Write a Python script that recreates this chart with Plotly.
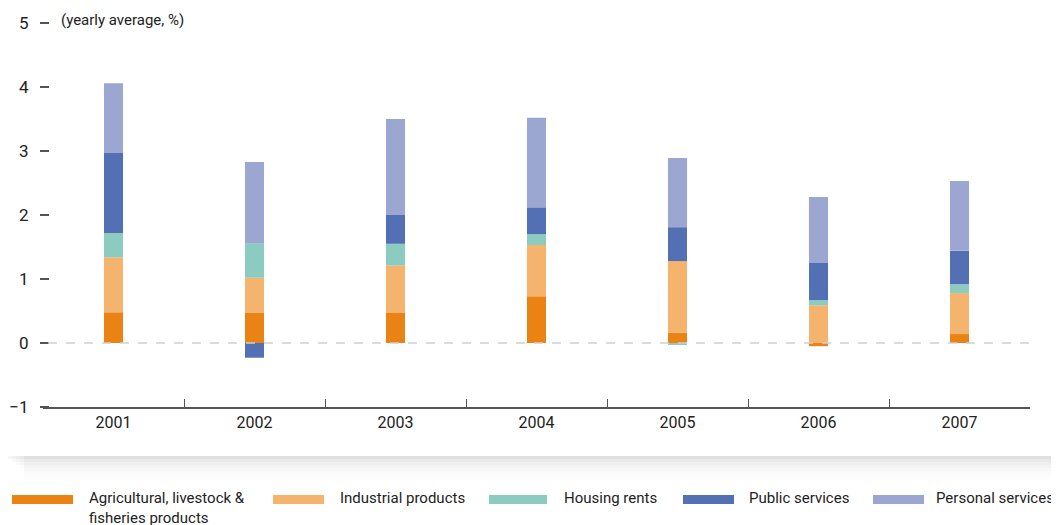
import plotly.graph_objects as go

# yearly average contributions, %
years = ["2001", "2002", "2003", "2004", "2005", "2006", "2007"]
agri = [0.48, 0.47, 0.47, 0.73, 0.16, -0.05, 0.14]
industrial = [0.86, 0.55, 0.74, 0.80, 1.12, 0.59, 0.64]
housing = [0.38, 0.54, 0.34, 0.17, -0.03, 0.08, 0.14]
public = [1.25, -0.23, 0.45, 0.42, 0.53, 0.58, 0.52]
personal = [1.09, 1.27, 1.50, 1.40, 1.08, 1.03, 1.09]

names = ["Agricultural, livestock &<br>fisheries products", "Industrial products",
         "Housing rents", "Public services", "Personal services"]
colors = ["#EB8214", "#F5B46E", "#8BCBC0", "#5470B4", "#9BA7D0"]
series = [agri, industrial, housing, public, personal]

FONT = "Liberation Sans Narrow, Arial Narrow, Roboto, sans-serif"
OFF = 8  # page body margin
W_PX, H_PX = 1059 - OFF, 525 - OFF
L, R, T, B = 43 - OFF, 1030 - OFF, 23 - OFF, 407 - OFF


# screen pixel -> paper fraction
def px(x):
    return (x - OFF - L) / (R - L)


def py(y):
    return (B - (y - OFF)) / (B - T)


fig = go.Figure()
for name, col, vals in zip(names, colors, series):
    fig.add_trace(go.Bar(x=years, y=vals, name=name, marker_color=col,
                         marker_line_width=0, width=0.135, showlegend=False))

shapes = []
# card shadow
for i, op in enumerate([0.03, 0.025, 0.02, 0.016, 0.012, 0.009, 0.006, 0.004]):
    shapes.append(dict(type="rect", xref="paper", yref="paper",
                       x0=px(8 + 4 * i if i < 4 else 24), x1=px(1054), y0=py(456), y1=py(456 + 3 * (i + 1)),
                       fillcolor="black", opacity=op, line_width=0, layer="below"))
for i, op in enumerate([0.03, 0.02, 0.015]):
    shapes.append(dict(type="rect", xref="paper", yref="paper",
                       x0=px(1054), x1=px(1054 + 2 * (i + 1)), y0=py(30), y1=py(456),
                       fillcolor="black", opacity=op, line_width=0, layer="below"))
# zero line
shapes.append(dict(type="line", xref="paper", yref="y", x0=px(48), x1=1, y0=0, y1=0,
                   line=dict(color="#cfcfcf", width=1.5, dash="dash"), layer="above"))

annotations = [dict(text="(yearly average, %)", xref="paper", yref="paper",
                    x=px(59), y=py(20), xanchor="left", yanchor="middle", showarrow=False,
                    font=dict(family=FONT, size=15, color="#222"))]

# legend
leg_sw = [(12, 73), (273, 324), (489, 547), (683, 734), (873, 924)]
leg_tx = [87, 338, 562, 747, 934]
for (a, b), tx, name, col in zip(leg_sw, leg_tx, names, colors):
    shapes.append(dict(type="rect", xref="paper", yref="paper",
                       x0=px(a), x1=px(b), y0=py(495), y1=py(504),
                       fillcolor=col, line_width=0))
    annotations.append(dict(text=name, xref="paper", yref="paper", x=px(tx), y=py(487),
                            xanchor="left", yanchor="top", align="left", showarrow=False,
                            font=dict(family=FONT, size=15, color="#222")))

fig.update_layout(
    barmode="relative",
    width=W_PX, height=H_PX,
    margin=dict(l=L, r=W_PX - R, t=T, b=H_PX - B),
    plot_bgcolor="white", paper_bgcolor="white",
    font=dict(family=FONT, size=16, color="#222"),
    shapes=shapes, annotations=annotations,
    showlegend=False,
    xaxis=dict(showgrid=False, showline=True, linecolor="#555", linewidth=1.5,
               ticks="inside", tickson="boundaries", ticklen=8, tickcolor="#555",
               tickfont=dict(size=16, color="#222"), zeroline=False,
               automargin=False, fixedrange=True),
    yaxis=dict(range=[-1, 5], dtick=1, showgrid=False, zeroline=False, showline=False,
               anchor="free", position=px(49),
               ticks="outside", ticklen=9, tickcolor="#555", tickwidth=1.5,
               ticklabelstandoff=8,
               tickfont=dict(size=17, color="#222"), automargin=False, fixedrange=True),
)

fig.write_html("out.html")
